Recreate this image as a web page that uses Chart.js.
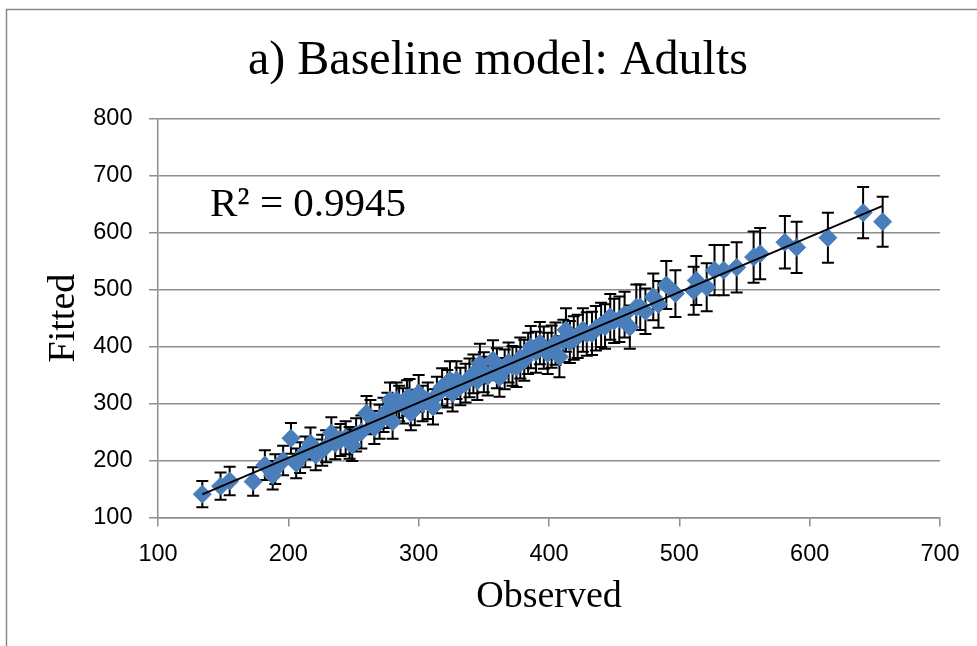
<!DOCTYPE html>
<html>
<head>
<meta charset="utf-8">
<script src="https://cdn.jsdelivr.net/npm/chart.js@4/dist/chart.umd.min.js"></script>
<style>
  html, body { margin: 0; padding: 0; background: #fff; }
  #wrap { width: 977px; height: 646px; }
</style>
</head>
<body>
<div id="wrap"><canvas id="c" width="977" height="646"></canvas></div>
<script>
// Observed vs fitted counts, baseline model (adults)
const observed = [
  134,148,155,173,182,188,190,196,202,206,
  209,213,217,221,226,229,233,236,240,244,
  247,249,252,256,260,263,266,270,273,276,
  278,280,283,285,288,291,293,294,297,300,
  303,307,311,314,318,322,324,326,329,332,
  336,339,342,345,347,350,353,357,360,362,
  366,369,372,375,378,381,384,386,390,393,
  396,399,402,405,408,411,413,416,419,422,
  426,429,433,436,440,443,447,450,454,458,
  462,467,470,474,480,484,490,497,511,513,
  521,527,534,544,557,562,581,590,614,641,656
];
const fitted = [
  141,155,164,163,192,174,185,200,239,195,
  205,215,230,210,218,225,248,230,236,240,
  231,227,245,250,283,276,258,268,280,288,
  306,268,306,300,296,310,311,283,293,318,
  300,305,294,315,329,326,341,318,341,330,
  336,345,352,340,370,355,348,376,362,346,
  360,372,366,364,380,376,388,399,390,406,
  398,388,400,405,382,410,429,408,415,418,
  429,422,423,432,438,435,452,445,448,456,
  434,469,469,462,487,474,508,493,498,516,
  504,534,534,539,557,563,583,574,591,635,619
];
// half-width of each fitted value's error bar
const errorHalf = [
  23,24,25,25,26,25,26,26,27,26,
  27,27,28,27,27,28,28,28,28,29,
  28,28,29,29,30,30,29,30,30,31,
  31,30,31,31,31,31,32,30,31,32,
  31,32,31,32,33,33,33,32,33,33,
  34,34,34,34,35,35,34,35,35,34,
  35,35,35,35,36,36,36,37,36,37,
  37,36,37,37,36,37,38,37,38,38,
  38,38,38,39,39,39,40,39,40,40,
  38,40,40,40,41,41,42,41,42,43,
  42,44,44,44,45,45,46,45,44,45,44
];
const xTicks = [100, 200, 300, 400, 500, 600, 700];
const yTicks = [100, 200, 300, 400, 500, 600, 700, 800];
const chartTitle = 'a) Baseline model: Adults';
const xTitle = 'Observed';
const yTitle = 'Fitted';
const rSquaredLabel = 'R\u00B2 = 0.9945';

const points = observed.map((x, i) => ({ x: x, y: fitted[i], err: errorHalf[i] }));

// least-squares trend line through the points
const n = observed.length;
const mx = observed.reduce((a, b) => a + b, 0) / n;
const my = fitted.reduce((a, b) => a + b, 0) / n;
let sxy = 0, sxx = 0;
for (let i = 0; i < n; i++) {
  sxy += (observed[i] - mx) * (fitted[i] - my);
  sxx += (observed[i] - mx) * (observed[i] - mx);
}
const slope = sxy / sxx;
const intercept = my - slope * mx;
const xMin = Math.min(...observed), xMax = Math.max(...observed);
const trend = [
  { x: xMin, y: intercept + slope * xMin },
  { x: xMax, y: intercept + slope * xMax }
];

const GRID = '#8e8e8e';
const SERIF = "'Liberation Serif', 'Times New Roman', serif";
const SANS = "'Liberation Sans', Arial, sans-serif";

const framePlugin = {
  id: 'frame',
  beforeDraw(chart) {
    const ctx = chart.ctx;
    ctx.save();
    ctx.fillStyle = '#fff';
    ctx.fillRect(0, 0, chart.width, chart.height);
    ctx.strokeStyle = '#8a8a8a';
    ctx.lineWidth = 1.5;
    ctx.beginPath();
    ctx.moveTo(6.5, chart.height + 5);
    ctx.lineTo(6.5, 9.5);
    ctx.lineTo(chart.width + 5, 9.5);
    ctx.stroke();
    ctx.restore();
  }
};

const errorBarPlugin = {
  id: 'errorBars',
  beforeDatasetsDraw(chart) {
    const ctx = chart.ctx;
    const xs = chart.scales.x, ys = chart.scales.y;
    const cap = 6;
    ctx.save();
    ctx.strokeStyle = '#000';
    ctx.lineWidth = 2;
    points.forEach(p => {
      const px = xs.getPixelForValue(p.x);
      const top = ys.getPixelForValue(p.y + p.err);
      const bot = ys.getPixelForValue(p.y - p.err);
      ctx.beginPath();
      ctx.moveTo(px, top); ctx.lineTo(px, bot);
      ctx.moveTo(px - cap, top); ctx.lineTo(px + cap, top);
      ctx.moveTo(px - cap, bot); ctx.lineTo(px + cap, bot);
      ctx.stroke();
    });
    ctx.restore();
  }
};

const r2Plugin = {
  id: 'r2Label',
  afterDatasetsDraw(chart) {
    const ctx = chart.ctx;
    const a = chart.chartArea;
    ctx.save();
    ctx.font = '41px ' + SERIF;
    ctx.fillStyle = '#000';
    ctx.textAlign = 'left';
    ctx.textBaseline = 'alphabetic';
    ctx.fillText(rSquaredLabel, a.left + 52, a.top + 97);
    ctx.restore();
  }
};

new Chart(document.getElementById('c'), {
  data: {
    datasets: [
      {
        type: 'line',
        data: trend,
        borderColor: '#000',
        borderWidth: 1.8,
        pointRadius: 0,
        fill: false,
        order: 0
      },
      {
        type: 'scatter',
        data: points,
        pointStyle: 'rectRot',
        pointRadius: 9,
        pointHoverRadius: 9,
        backgroundColor: '#4a7ebb',
        borderColor: '#4a7ebb',
        borderWidth: 1,
        order: 1
      }
    ]
  },
  options: {
    responsive: false,
    animation: false,
    devicePixelRatio: 1,
    events: [],
    layout: { padding: { left: 19, right: 0, top: 0, bottom: 0 } },
    plugins: {
      legend: { display: false },
      tooltip: { enabled: false },
      title: {
        display: true,
        text: chartTitle,
        color: '#000',
        font: { family: SERIF, size: 48, weight: 'normal', lineHeight: 1.2 },
        padding: { top: 33, bottom: 28 }
      }
    },
    scales: {
      x: {
        type: 'linear',
        min: 100,
        max: 700,
        afterBuildTicks: s => { s.ticks = xTicks.map(v => ({ value: v })); },
        afterFit: s => { s.height = 128.5; s.paddingRight = 37; },
        ticks: { color: '#000', font: { family: SANS, size: 23.5 }, padding: 14 },
        grid: { drawOnChartArea: false, drawTicks: true, tickLength: 9, color: GRID, lineWidth: 1.5 },
        border: { display: true, color: GRID, width: 1.5 },
        title: {
          display: true,
          text: xTitle,
          color: '#000',
          font: { family: SERIF, size: 38, weight: 'normal', lineHeight: 1 },
          padding: { top: 0, bottom: 30 }
        }
      },
      y: {
        type: 'linear',
        min: 100,
        max: 800,
        afterBuildTicks: s => { s.ticks = yTicks.map(v => ({ value: v })); },
        afterFit: s => { s.width = 139; },
        ticks: { color: '#000', font: { family: SANS, size: 23.5 }, padding: 16.5 },
        grid: { drawOnChartArea: true, drawTicks: true, tickLength: 9, color: GRID, lineWidth: 1.5 },
        border: { display: true, color: GRID, width: 1.5 },
        title: {
          display: true,
          text: yTitle,
          color: '#000',
          font: { family: SERIF, size: 38, weight: 'normal', lineHeight: 1 },
          padding: { top: 26, bottom: 0 }
        }
      }
    }
  },
  plugins: [framePlugin, errorBarPlugin, r2Plugin]
});
</script>
</body>
</html>
